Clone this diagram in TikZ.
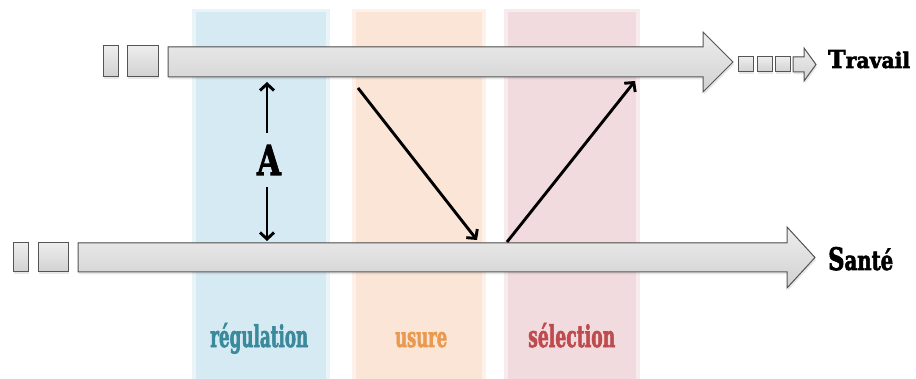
\documentclass[tikz,border=0pt]{standalone}
\usepackage{fontspec}
\usepackage{graphicx}
\usetikzlibrary{arrows.meta,shadows}
\newfontfamily\slab[BoldFeatures={FakeBold=2.5}]{DejaVu Serif}
\definecolor{bandblue}{HTML}{D6EAF4}
\definecolor{bandorange}{HTML}{FBE5D6}
\definecolor{bandpink}{HTML}{F2DBDE}
\definecolor{txtblue}{HTML}{3A8A9C}
\definecolor{txtorange}{HTML}{EA9A50}
\definecolor{txtred}{HTML}{BE4B4E}
\definecolor{arrowedge}{HTML}{555555}
\begin{document}
\begin{tikzpicture}[x=1pt,y=-1pt,
  blockarrow/.style={draw=arrowedge, line width=1pt, top color=gray!14, bottom color=gray!36,
    drop shadow={opacity=0.18, shadow xshift=1pt, shadow yshift=-2.5pt}},
  conn/.style={line width=2.9pt, -{Straight Barb[length=6.5pt,width=14pt]}},
  lbl/.style={inner sep=0pt, anchor=base west}]
\useasboundingbox (0,0) rectangle (916,379);
\fill[white] (0,0) rectangle (916,379);
% bands
\fill[bandblue!55!white] (192,9) rectangle (330,379);
\fill[bandblue] (196,12) rectangle (326,379);
\fill[bandorange!55!white] (352,9) rectangle (486,379);
\fill[bandorange] (356,12) rectangle (482,379);
\fill[bandpink!55!white] (504,9) rectangle (640,379);
\fill[bandpink] (508,12) rectangle (636,379);
% top block arrow (Travail)
\filldraw[blockarrow] (103,46) rectangle (118,77);
\filldraw[blockarrow] (127,46) rectangle (158,77);
\filldraw[blockarrow] (168,47) -- (703,47) -- (703,32) -- (733,62) -- (703,92) -- (703,77) -- (168,77) -- cycle;
\filldraw[blockarrow] (738,57) rectangle (753,72);
\filldraw[blockarrow] (757,57) rectangle (772,72);
\filldraw[blockarrow] (775,57) rectangle (790,72);
\filldraw[blockarrow] (793,57) -- (804,57) -- (804,48) -- (816,64.5) -- (804,81) -- (804,72) -- (793,72) -- cycle;
% bottom block arrow (Sante)
\filldraw[blockarrow] (13,243) rectangle (28,272);
\filldraw[blockarrow] (38,243) rectangle (68,272);
\filldraw[blockarrow] (78,243) -- (787,243) -- (787,227) -- (815,257.5) -- (787,288) -- (787,272) -- (78,272) -- cycle;
% titles
\node[lbl] (travail) at (828,68) {\resizebox{82pt}{18pt}{\slab\bfseries{\fontsize{11.5}{11.5}\selectfont T}ravail}};
\node[lbl] (sante) at (828,270) {\resizebox{65pt}{23pt}{\slab\bfseries{\fontsize{11.5}{11.5}\selectfont S}anté}};
% band labels
\node[lbl, text=txtblue] (regul) at (210,347) {\resizebox{98pt}{24pt}{\slab\bfseries régulation}};
\node[lbl, text=txtorange] (usure) at (395,347) {\resizebox{52pt}{15pt}{\slab\bfseries usure}};
\node[lbl, text=txtred] (select) at (528,347) {\resizebox{87pt}{24pt}{\slab\bfseries sélection}};
% A and its double arrow
\coordinate (up) at (267,82);
\coordinate (dn) at (267,241);
\node[inner xsep=0pt, inner ysep=12pt] (A) at (269,160) {\resizebox{24pt}{30pt}{\slab\bfseries A}};
\draw[conn] (A.north -| up) -- (up);
\draw[conn] (A.south -| dn) -- (dn);
% diagonal arrows
\coordinate (d1s) at (358,88);
\coordinate (d1e) at (477,240);
\coordinate (d2s) at (507,242);
\coordinate (d2e) at (635,81);
\draw[conn] (d1s) -- (d1e);
\draw[conn] (d2s) -- (d2e);
\end{tikzpicture}
\end{document}
